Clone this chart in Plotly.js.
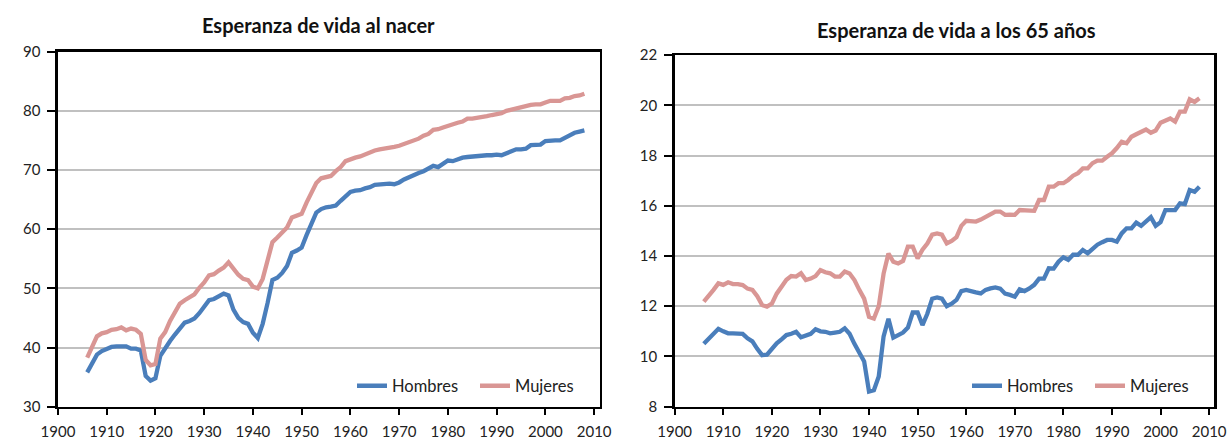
<!DOCTYPE html>
<html>
<head>
<meta charset="utf-8">
<script src="https://cdn.plot.ly/plotly-3.0.1.min.js"></script>
<style>html,body{margin:0;padding:0;background:#fff;}#chart{width:1230px;height:440px;}</style>
</head>
<body>
<div id="chart"></div>
<script>
// Years 1906-2008
const years = [];
for (let y = 1906; y <= 2008; y++) years.push(y);

// Esperanza de vida al nacer
const nacerHombres = [35.8,37.5,38.8,39.4,39.8,40.1,40.2,40.2,40.2,39.8,
  39.8,39.5,35.2,34.4,34.8,38.6,40.0,41.1,42.2,43.2,
  44.2,44.5,44.9,45.8,47.0,48.0,48.2,48.6,49.1,48.8,
  46.4,45.0,44.3,44.0,42.5,41.6,44.0,47.5,51.4,51.8,
  52.6,53.8,56.0,56.4,56.9,59.0,61.0,62.8,63.4,63.7,
  63.8,64.0,64.8,65.6,66.3,66.5,66.6,66.9,67.1,67.5,
  67.6,67.6,67.7,67.6,67.9,68.4,68.8,69.2,69.5,69.8,
  70.2,70.7,70.5,71.1,71.6,71.5,71.8,72.1,72.2,72.3,
  72.4,72.5,72.5,72.5,72.6,72.5,72.9,73.3,73.5,73.5,
  73.6,74.2,74.2,74.3,74.9,75.0,75.0,75.0,75.5,75.8,
  76.3,76.5,76.7];
const nacerMujeres = [38.3,40.3,41.9,42.4,42.6,43.0,43.1,43.4,42.9,43.2,
  43.0,42.3,37.9,37.0,37.2,41.5,42.6,44.5,46.0,47.4,
  48.0,48.5,49.0,50.1,51.0,52.2,52.4,53.0,53.5,54.4,
  53.3,52.3,51.6,51.4,50.3,50.0,51.6,54.5,57.8,58.6,
  59.4,60.3,62.0,62.3,62.6,64.5,66.3,67.8,68.6,68.8,
  69.0,69.8,70.5,71.5,71.9,72.1,72.3,72.7,73.0,73.3,
  73.5,73.6,73.8,73.9,74.1,74.4,74.7,75.0,75.3,75.8,
  76.1,76.8,76.9,77.2,77.5,77.8,78.0,78.2,78.7,78.7,
  78.8,79.0,79.1,79.3,79.5,79.6,80.0,80.2,80.5,80.7,
  80.8,81.0,81.1,81.1,81.4,81.7,81.7,81.7,82.1,82.2,
  82.5,82.6,82.9];

// Esperanza de vida a los 65 años
const a65Hombres = [10.5,10.7,10.9,11.1,11.0,10.92,10.92,10.92,10.9,10.72,
  10.6,10.3,10.05,10.07,10.3,10.52,10.68,10.85,10.9,10.98,
  10.76,10.82,10.9,11.08,11.0,10.98,10.92,10.95,10.98,11.12,
  10.9,10.5,10.12,9.8,8.6,8.65,9.2,10.8,11.5,10.75,
  10.85,10.95,11.15,11.75,11.75,11.25,11.7,12.3,12.35,12.3,
  12.0,12.1,12.25,12.6,12.65,12.62,12.55,12.51,12.65,12.71,
  12.75,12.7,12.5,12.45,12.38,12.67,12.6,12.71,12.85,13.1,
  13.1,13.51,13.5,13.77,13.95,13.85,14.05,14.05,14.24,14.11,
  14.3,14.45,14.55,14.64,14.64,14.57,14.9,15.1,15.1,15.33,
  15.2,15.4,15.55,15.2,15.35,15.83,15.83,15.83,16.1,16.07,
  16.63,16.56,16.76];
const a65Mujeres = [12.18,12.4,12.65,12.91,12.85,12.95,12.88,12.88,12.84,12.7,
  12.65,12.4,12.05,11.98,12.1,12.5,12.78,13.05,13.2,13.18,
  13.31,13.04,13.1,13.2,13.44,13.35,13.31,13.18,13.18,13.38,
  13.3,13.04,12.65,12.3,11.58,11.51,12.0,13.3,14.1,13.77,
  13.7,13.8,14.37,14.37,13.9,14.25,14.5,14.85,14.9,14.85,
  14.5,14.6,14.75,15.2,15.4,15.4,15.37,15.45,15.57,15.65,
  15.77,15.77,15.64,15.65,15.64,15.83,15.83,15.83,15.8,16.23,
  16.23,16.76,16.76,16.9,16.9,17.03,17.2,17.3,17.49,17.49,
  17.7,17.8,17.8,17.95,18.09,18.3,18.55,18.49,18.75,18.85,
  18.95,19.04,18.91,19.0,19.31,19.4,19.48,19.35,19.75,19.75,
  20.24,20.14,20.28];

const seriesNames = ['Hombres', 'Mujeres'];
const titles = ['Esperanza de vida al nacer', 'Esperanza de vida a los 65 años'];

const BLUE = '#4a7ebb', PINK = '#d99694';
const FONT = 'Lato, "Open Sans", sans-serif';

const traces = [
  {x: years, y: nacerHombres, name: seriesNames[0], type: 'scatter', mode: 'lines',
   line: {color: BLUE, width: 4.3}, xaxis: 'x', yaxis: 'y', legend: 'legend'},
  {x: years, y: nacerMujeres, name: seriesNames[1], type: 'scatter', mode: 'lines',
   line: {color: PINK, width: 4.3}, xaxis: 'x', yaxis: 'y', legend: 'legend'},
  {x: years, y: a65Hombres, name: seriesNames[0], type: 'scatter', mode: 'lines',
   line: {color: BLUE, width: 4.3}, xaxis: 'x2', yaxis: 'y2', legend: 'legend2'},
  {x: years, y: a65Mujeres, name: seriesNames[1], type: 'scatter', mode: 'lines',
   line: {color: PINK, width: 4.3}, xaxis: 'x2', yaxis: 'y2', legend: 'legend2'}
];

function xax(domain, anchor, maxR) {
  return {domain: domain, anchor: anchor, range: [1900, maxR], tick0: 1900, dtick: 10,
    showgrid: false, zeroline: false, showline: true, linecolor: '#000', linewidth: 2.5, mirror: true,
    ticks: 'outside', ticklen: 6, tickwidth: 2, tickcolor: '#000', ticklabelstandoff: 4,
    tickfont: {family: FONT, size: 15, color: '#222'}};
}
function yax(domain, anchor, range, dtick) {
  return {domain: domain, anchor: anchor, range: range, dtick: dtick,
    showgrid: true, gridcolor: '#c0c0c0', gridwidth: 2, zeroline: false,
    showline: true, linecolor: '#000', linewidth: 2.5, mirror: true,
    ticks: 'outside', ticklen: 8, tickwidth: 2, tickcolor: '#000', ticklabelstandoff: 4,
    tickfont: {family: FONT, size: 15, color: '#222'}};
}

const legendBase = {orientation: 'h', yanchor: 'middle', xanchor: 'left', bgcolor: 'rgba(0,0,0,0)',
  font: {family: FONT, size: 16.5, color: '#222'}, itemwidth: 30, tracegroupgap: 0, entrywidth: 78};

const layout = {
  width: 1230, height: 440,
  margin: {l: 0, r: 0, t: 0, b: 0},
  paper_bgcolor: '#fff', plot_bgcolor: '#fff',
  showlegend: true,
  xaxis: xax([0.0471, 0.4878], 'y', 2011.2),
  yaxis: yax([0.0757, 0.8825], 'x', [30, 90], 10),
  xaxis2: xax([0.5485, 0.9870], 'y2', 2011),
  yaxis2: yax([0.0759, 0.8746], 'x2', [8, 22], 2),
  legend: Object.assign({}, legendBase, {x: 352/1230, y: 1 - 386/440}),
  legend2: Object.assign({}, legendBase, {x: 967/1230, y: 1 - 386/440}),
  annotations: [
    {text: '<b>' + titles[0] + '</b>', xref: 'paper', yref: 'paper', x: 318/1230, y: 1 - 25/440,
     xanchor: 'center', yanchor: 'middle', showarrow: false, font: {family: FONT, size: 20, color: '#111'}},
    {text: '<b>' + titles[1] + '</b>', xref: 'paper', yref: 'paper', x: 956/1230, y: 1 - 30/440,
     xanchor: 'center', yanchor: 'middle', showarrow: false, font: {family: FONT, size: 20, color: '#111'}}
  ]
};

Plotly.newPlot('chart', traces, layout, {staticPlot: true, displayModeBar: false});
</script>
</body>
</html>
